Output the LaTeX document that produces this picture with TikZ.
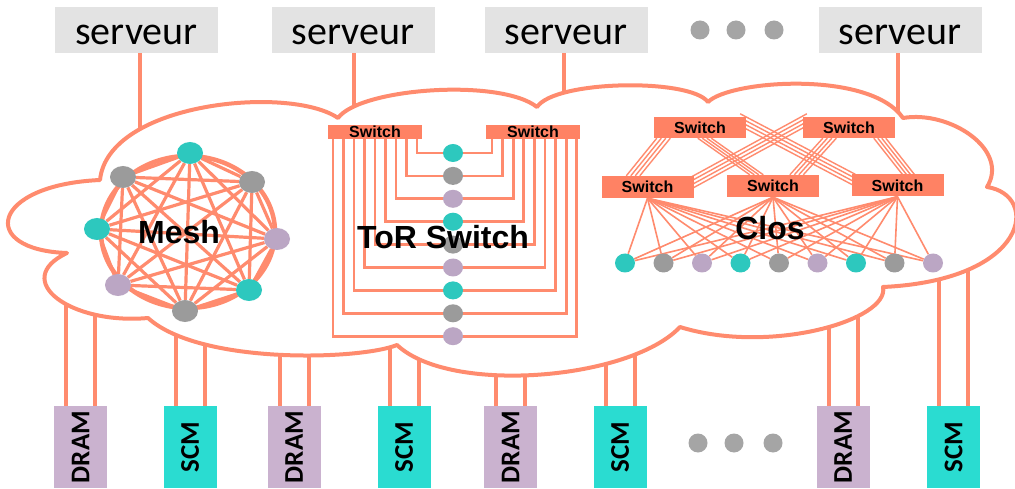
\documentclass[tikz,border=0pt]{standalone}
\usepackage{fontspec}
\setsansfont{Liberation Sans}
\newfontfamily\calib{Carlito}
\usetikzlibrary{shapes.geometric, positioning, calc, backgrounds}
\definecolor{Salmon}{HTML}{FF8B6E}
\definecolor{SwFill}{HTML}{FF8264}
\definecolor{Teal}  {HTML}{2DC8BE}
\definecolor{Scm}   {HTML}{2ADCD1}
\definecolor{Lilac} {HTML}{BBA6C4}
\definecolor{Dram}  {HTML}{CAB2CF}
\definecolor{Stone} {HTML}{9B9B9B}
\definecolor{Srv}   {HTML}{E3E3E3}
\definecolor{Dot}   {HTML}{A5A5A5}
\pgfdeclarelayer{back}\pgfdeclarelayer{cloud}\pgfdeclarelayer{wire}
\pgfsetlayers{back,cloud,wire,main}
\tikzset{
  srv/.style={fill=Srv, minimum width=163pt, minimum height=46pt, inner sep=0pt,
              text height=30pt, text depth=0pt, font=\calib\fontsize{40}{40}\selectfont},
  mem/.style={minimum width=53pt, minimum height=82pt, inner sep=0pt,
              font=\calib\bfseries\fontsize{27}{27}\selectfont},
  sw/.style={fill=SwFill, inner sep=0pt, font=\sffamily\bfseries\fontsize{16}{16}\selectfont},
  nd/.style={ellipse, inner sep=0pt},
  dotg/.style={circle, fill=Dot, minimum size=19pt, inner sep=0pt},
  lbl/.style={inner sep=0pt, font=\sffamily\bfseries\fontsize{32}{32}\selectfont},
  plug/.style={draw=Salmon, line width=4pt},
  mlink/.style={draw=Salmon, line width=3.2pt},
  tlink/.style={draw=Salmon, line width=2.7pt},
  flink/.style={draw=Salmon, line width=1.6pt},
  blink/.style={draw=Salmon, line width=1.4pt}
}

\begin{document}
\begin{tikzpicture}[x=1pt,y=-1pt]
  \useasboundingbox (0,0) rectangle (1015,489);
  % servers
  \node[srv] (srv1) at (136.5,30) {serveur};
  \node[srv] (srv2) at (353,30)   {serveur};
  \node[srv] (srv3) at (566,30)   {serveur};
  \node[srv] (srv4) at (900,30)   {serveur};
  \node[dotg] (sd1) at (700,30) {};
  \node[dotg] (sd2) at (736,30) {};
  \node[dotg] (sd3) at (774,30) {};
  \coordinate (hub1) at (140,150);
  \coordinate (hub2) at (354,120);
  \coordinate (hub3) at (564,105);
  \coordinate (hub4) at (898,130);
  % memories
  \foreach \i/\x/\t/\c/\yt in {1/80.5/DRAM/Dram/300, 2/190/SCM/Scm/325, 3/294/DRAM/Dram/335,
      4/404/SCM/Scm/330, 5/510.5/DRAM/Dram/350, 6/620/SCM/Scm/340,
      7/843/DRAM/Dram/305, 8/953.5/SCM/Scm/255}{
    \node[mem,fill=\c] (mem\i) at (\x,447) {\rotatebox{90}{\t}};
    \coordinate (top\i) at (\x,\yt);
  }
  \node[dotg] (md1) at (698,443) {};
  \node[dotg] (md2) at (734,443) {};
  \node[dotg] (md3) at (773,443) {};

  \begin{pgfonlayer}{back}
    \foreach \i in {1,...,4}
      \draw[plug] (srv\i.south -| hub\i) -- (hub\i);
    \foreach \i in {1,...,8}{
      \draw[plug] ([xshift=-14.5pt]mem\i.north) -- ([xshift=-14.5pt]top\i);
      \draw[plug] ([xshift=14.5pt]mem\i.north) -- ([xshift=14.5pt]top\i);
    }
  \end{pgfonlayer}

  % cloud
  \begin{pgfonlayer}{cloud}
    \draw[draw=Salmon, line width=4pt, fill=white, line join=round] (100,180)
      .. controls (108,102) and (290,85) .. (338,118)
      .. controls (360,88) and (500,78) .. (537,107)
      .. controls (555,80) and (690,78) .. (708,102)
      .. controls (730,80) and (870,70) .. (903,118)
      .. controls (950,110) and (1010,150) .. (987,187)
      .. controls (1040,195) and (1030,280) .. (883,287)
      .. controls (890,320) and (770,355) .. (680,327)
      .. controls (630,380) and (450,395) .. (397,345)
      .. controls (360,360) and (200,365) .. (148,318)
      .. controls (70,325) and (10,280) .. (67,253)
      .. controls (-22,250) and (-10,185) .. (100,180) -- cycle;
  \end{pgfonlayer}

  % mesh
  \foreach \n/\x/\y/\c in {1/190/153/Teal, 2/252/182/Stone, 3/277/239/Lilac, 4/249/290/Teal,
      5/185/311/Stone, 6/118/285/Lilac, 7/97/229/Teal, 8/123/177/Stone}
    \node[nd,fill=\c,minimum width=26pt,minimum height=22pt] (m\n) at (\x,\y) {};
  \begin{pgfonlayer}{wire}
    \draw[Salmon, line width=4.5pt] (188,232) ellipse [x radius=87, y radius=76];
    \foreach \a in {1,...,7}{
      \pgfmathtruncatemacro\s{\a+1}
      \foreach \b in {\s,...,8}
        \draw[mlink] (m\a) -- (m\b);
    }
  \end{pgfonlayer}

  % ToR switch
  \node[sw,minimum width=94pt,minimum height=14pt] (swL) at (375,132) {Switch};
  \node[sw,minimum width=94pt,minimum height=14pt] (swR) at (533,132) {Switch};
  \foreach \i/\c in {0/Teal,1/Stone,2/Lilac,3/Teal,4/Stone,5/Lilac,6/Teal,7/Stone,8/Lilac}
    \node[nd,fill=\c,minimum width=20pt,minimum height=18pt] (t\i) at (453,{153+22.9*\i}) {};
  \begin{pgfonlayer}{wire}
    \foreach \i in {0,...,8}{
      \pgfmathsetmacro\dl{42-10.5*\i}
      \pgfmathsetmacro\dr{-41+10.6*\i}
      \draw[tlink] (t\i.center) -| ([xshift=\dl pt]swL.center);
      \draw[tlink] (t\i.center) -| ([xshift=\dr pt]swR.center);
    }
  \end{pgfonlayer}

  % Clos
  \node[sw,minimum width=92pt,minimum height=21pt] (c1) at (700,127.5) {Switch};
  \node[sw,minimum width=92pt,minimum height=21pt] (c2) at (849,127.5) {Switch};
  \node[sw,minimum width=92pt,minimum height=22pt] (l1) at (647.5,187) {Switch};
  \node[sw,minimum width=92pt,minimum height=22pt] (l2) at (773,186) {Switch};
  \node[sw,minimum width=92pt,minimum height=22pt] (l3) at (897.5,185.5) {Switch};
  \foreach \i/\c in {1/Teal,2/Stone,3/Lilac,4/Teal,5/Stone,6/Lilac,7/Teal,8/Stone,9/Lilac}
    \node[nd,fill=\c,minimum width=20pt,minimum height=19pt] (b\i) at ({625+38.5*(\i-1)},263) {};
  \begin{pgfonlayer}{wire}
    \foreach \k in {0,...,3}{
      \draw[blink] ([xshift={3+4.5*\k}]c1.south west) -- ([xshift={25+4.5*\k}]l1.north west);
      \draw[blink] ([xshift={44+4.5*\k}]c1.south west) -- ([xshift={23+4.5*\k}]l2.north west);
      \draw[blink] ([xshift=-6,yshift={3-4*\k}]c1.north east) -- ([xshift=4,yshift={-4*\k}]l3.north west);
      \draw[blink] ([xshift=4,yshift={3-4*\k}]c2.north west) -- ([xshift=-4,yshift={-2-4*\k}]l1.north east);
      \draw[blink] ([xshift={20+4.5*\k}]c2.south west) -- ([xshift={63+4.5*\k}]l2.north west);
      \draw[blink] ([xshift={71+4*\k}]c2.south west) -- ([xshift={51+4*\k}]l3.north west);
    }
    \foreach \j in {1,2,3}
      \foreach \i in {1,...,9}
        \draw[flink] (l\j.south) -- (b\i);
  \end{pgfonlayer}

  % labels
  \node[lbl] (meshlbl) at (179,232) {Mesh};
  \node[lbl] (torlbl)  at (443,237) {ToR Switch};
  \node[lbl] (closlbl) at (770,228) {Clos};
\end{tikzpicture}
\end{document}
